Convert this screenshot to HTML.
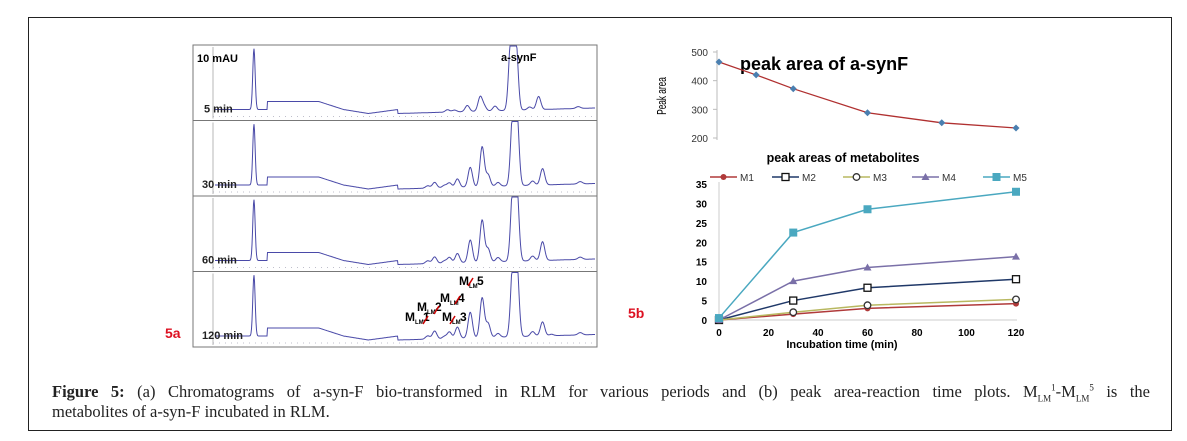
<!DOCTYPE html>
<html><head><meta charset="utf-8">
<style>
body{margin:0;width:1187px;height:441px;background:#fff;overflow:hidden;font-family:"Liberation Sans",sans-serif}
#frame{position:absolute;left:28px;top:17px;width:1144px;height:414px;border:1.5px solid #222;box-sizing:border-box}
#cap{position:absolute;left:52px;top:382px;width:1098px;font-family:"Liberation Serif",serif;font-size:16.5px;line-height:20px;color:#222}
#cap .l1{text-align:justify;text-align-last:justify;white-space:nowrap;word-spacing:3px;height:20px}
sub,sup{font-size:9px;line-height:0}
</style></head><body>
<div id="frame"></div>
<svg id="svg" width="1187" height="441" style="position:absolute;left:0;top:0"></svg>
<div id="cap"><div class="l1"><b>Figure 5:</b> (a) Chromatograms of a-syn-F bio-transformed in RLM for various periods and (b) peak area-reaction time plots. M<sub>LM</sub><sup>1</sup>-M<sub>LM</sub><sup>5</sup> is the</div><div>metabolites of a-syn-F incubated in RLM.</div></div>
<script>
// ---------- chart b data ----------
const topTimes=[0,15,30,60,90,120];
const topArea=[465,420,372,288,253,235];
const topTicks=[200,300,400,500];
const metTimes=[0,30,60,120];
const metNames=['M1','M2','M3','M4','M5'];
const M1=[0,1.5,3,4.2];
const M2=[0,5,8.3,10.5];
const M3=[0,2,3.8,5.3];
const M4=[0,10,13.5,16.3];
const M5=[0.5,22.5,28.5,33];
const metTicks=[0,5,10,15,20,25,30,35];
const xTicks=[0,20,40,60,80,100,120];
// ---------- chart a data (retention time min, relative height) ----------
const panelLabels=['5 min','30 min','60 min','120 min'];
const peaks5=[[5.45,1.3],[25,0.05],[25.7,0.04],[27,0.13],[28.3,0.3],[28.7,0.1],[29.8,0.1],[31.4,1.5],[31.9,1.5],[33.3,0.06],[34.2,0.28],[38.2,0.04]];
const peaks30=[[5.45,1.3],[23,0.05],[23.7,0.12],[24.7,0.05],[25.2,0.1],[26,0.18],[27.3,0.42],[28.5,0.85],[29.1,0.25],[30.1,0.08],[31.6,1.5],[32,1.5],[33.6,0.09],[34.6,0.35],[38.4,0.05]];
const peaks60=[[5.45,1.3],[23,0.06],[23.7,0.14],[24.7,0.05],[25.2,0.12],[26,0.2],[27.3,0.48],[28.5,0.9],[29.1,0.28],[30.1,0.09],[31.6,1.5],[32,1.5],[33.6,0.1],[34.6,0.4],[38.4,0.05]];
const peaks120=[[5.45,1.3],[23,0.07],[23.7,0.17],[24.7,0.05],[25.2,0.14],[26,0.24],[27.3,0.55],[28.5,0.85],[29.1,0.3],[30.1,0.08],[31.6,1.5],[32,1.5],[33.6,0.1],[34.6,0.3],[35.5,0.03],[38.4,0.05]];
const allPeaks=[peaks5,peaks30,peaks60,peaks120];

const NS='http://www.w3.org/2000/svg';
const svg=document.getElementById('svg');
function mk(tag,attrs,parent,txt){const e=document.createElementNS(NS,tag);for(const k in attrs)e.setAttribute(k,attrs[k]);if(txt!==undefined)e.textContent=txt;(parent||svg).appendChild(e);return e;}

// ===== chart a =====
const gA=mk('g',{});


const aL=193,aR=597,aT=45,panelH=75.5;
for(let p=0;p<4;p++){
  const top=aT+p*panelH, bot=top+panelH;
  const r=mk('rect',{x:aL,y:top,width:aR-aL,height:panelH,fill:'#fff',stroke:'#777','stroke-width':1},gA);
  
  
  mk('line',{x1:aL+20,y1:top+2,x2:aL+20,y2:bot-2,stroke:'#999','stroke-width':0.7},gA);
  mk('line',{x1:aL+20,y1:bot-4,x2:aR-2,y2:bot-4,stroke:'#aab','stroke-width':0.7,'stroke-dasharray':'1 5'},gA);
  const base=bot-11, scale=panelH*0.62;
  let d='';
  for(let x=aL+22;x<=aR-2;x+=0.5){
    const rt=(x-200)/9.9;
    let y=base;
    if(rt>6.5&&rt<18){const b=rt<12?1:Math.max(0,1-(rt-12)/2.5);y=base-(rt<6.8?0:8*b);}
    if(rt>14.5&&rt<20)y+=(rt<17?(rt-14.5)/2.5*4:4-(rt-17)/3*4);
    if(rt>=20)y=base+4-(rt-20)/18*5;
    for(const pk of allPeaks[p]){const w=pk[0]<6?0.12:0.22;y-=pk[1]*scale*Math.exp(-((rt-pk[0])**2)/(2*w*w));}
    y=Math.max(top+1,y);
    d+=(d?'L':'M')+x.toFixed(1)+' '+y.toFixed(1);
  }
  const tr=mk('path',{d:d,fill:'none',stroke:'#4a4aa8','stroke-width':1},gA);
  
  
  const lb=mk('text',{x:aL+(p==0?11:9),y:bot-8,'font-size':11,'font-weight':'bold',fill:'#222'},gA,panelLabels[p]);
  
  
}
const t1=mk('text',{x:197,y:62,'font-size':11,'font-weight':'bold'},gA,'10 mAU');


const t2=mk('text',{x:501,y:61,'font-size':11,'font-weight':'bold'},gA,'a-synF');


const ann=[['1',405,321,425,316],['2',417,311,436,306],['3',442,321,452,316],['4',440,302,457,296],['5',459,285,470,278]];
for(const a of ann){
  const g=mk('g',{},gA);
  
  
  mk('text',{x:a[1],y:a[2],'font-size':12,'font-weight':'bold'},g,'M');
  mk('text',{x:a[1]+10,y:a[2]+3,'font-size':6,'font-weight':'bold'},g,'LM');
  mk('text',{x:a[1]+18,y:a[2],'font-size':12,'font-weight':'bold'},g,a[0]);
  mk('line',{x1:a[3]-2,y1:a[4]+8,x2:a[3]+3,y2:a[4],stroke:'#c00','stroke-width':1.5},g);
}
const l5a=mk('text',{x:165,y:338,'font-size':14,'font-weight':'bold',fill:'#d12'},null,'5a');



// ===== chart b =====
const gB=mk('g',{});


const xS=t=>719+t*(297/120);
const yTop=v=>138-(v-200)*(86/300);
const yMet=v=>320-v*(136/35);
mk('line',{x1:717,y1:50,x2:717,y2:140,stroke:'#bbb'},gB);
for(const t of topTicks){
  mk('line',{x1:713,y1:yTop(t),x2:717,y2:yTop(t),stroke:'#bbb'},gB);
  const tt=mk('text',{x:708,y:yTop(t)+4,'font-size':10,'text-anchor':'end',fill:'#333'},gB,t);
  
  
}
const yt=mk('text',{x:0,y:0,'font-size':11,'text-anchor':'middle',transform:'translate(666,96) rotate(-90) scale(0.75,1.2)'},gB,'Peak area');


const tt1=mk('text',{x:740,y:70,'font-size':18,'font-weight':'bold'},gB,'peak area of a-synF');


const tl=mk('path',{d:topTimes.map((t,i)=>(i?'L':'M')+xS(t)+' '+yTop(topArea[i])).join(''),fill:'none',stroke:'#b03030','stroke-width':1.3},gB);


topTimes.forEach((t,i)=>{const x=xS(t),y=yTop(topArea[i]);
  const m=mk('path',{d:`M${x} ${y-3.5}L${x+3.5} ${y}L${x} ${y+3.5}L${x-3.5} ${y}Z`,fill:'#4a7fb0'},gB);
  
  });

const tt2=mk('text',{x:843,y:162,'font-size':12.5,'font-weight':'bold','text-anchor':'middle'},gB,'peak areas of metabolites');


mk('line',{x1:719,y1:182,x2:719,y2:320,stroke:'#ccc'},gB);
mk('line',{x1:719,y1:320,x2:1017,y2:320,stroke:'#ccc'},gB);
for(const t of metTicks){
  const e=mk('text',{x:707,y:yMet(t)+4,'font-size':10,'font-weight':'bold','text-anchor':'end'},gB,t);
  
  
}
for(const t of xTicks){
  const e=mk('text',{x:xS(t),y:336,'font-size':10,'font-weight':'bold','text-anchor':'middle'},gB,t);
  
  
}
const xt=mk('text',{x:842,y:348,'font-size':11,'font-weight':'bold','text-anchor':'middle'},gB,'Incubation time (min)');


const series=[M1,M2,M3,M4,M5];
const colors=['#b03a3a','#1f3868','#b8b860','#7a70a8','#4aa8c0'];
const mkType=['circle','square','ocircle','tri','fsquare'];
function marker(type,x,y,c,g){
  if(type=='circle')return mk('circle',{cx:x,cy:y,r:3,fill:c},g);
  if(type=='ocircle')return mk('circle',{cx:x,cy:y,r:3.3,fill:'#fff',stroke:'#333','stroke-width':1.3},g);
  if(type=='square')return mk('rect',{x:x-3.5,y:y-3.5,width:7,height:7,fill:'#fff',stroke:'#111','stroke-width':1.3},g);
  if(type=='fsquare')return mk('rect',{x:x-4,y:y-4,width:8,height:8,fill:c},g);
  return mk('path',{d:`M${x} ${y-4}L${x+4} ${y+3}L${x-4} ${y+3}Z`,fill:c},g);
}
const legX=[710,772,843,912,983];
series.forEach((s,k)=>{
  const g=mk('g',{},gB);
  
  
  mk('path',{d:metTimes.map((t,i)=>(i?'L':'M')+xS(t)+' '+yMet(s[i])).join(''),fill:'none',stroke:colors[k],'stroke-width':1.5},g);
  metTimes.forEach((t,i)=>{const m=marker(mkType[k],xS(t),yMet(s[i]),colors[k],g);
    
    });
  const lg=mk('g',{},gB);
  
  
  mk('line',{x1:legX[k],y1:177,x2:legX[k]+27,y2:177,stroke:colors[k],'stroke-width':1.5},lg);
  marker(mkType[k],legX[k]+13.5,177,colors[k],lg);
  mk('text',{x:legX[k]+30,y:181,'font-size':10,fill:'#333'},lg,metNames[k]);
});
const l5b=mk('text',{x:628,y:318,'font-size':14,'font-weight':'bold',fill:'#d12'},null,'5b');


</script>
</body></html>
